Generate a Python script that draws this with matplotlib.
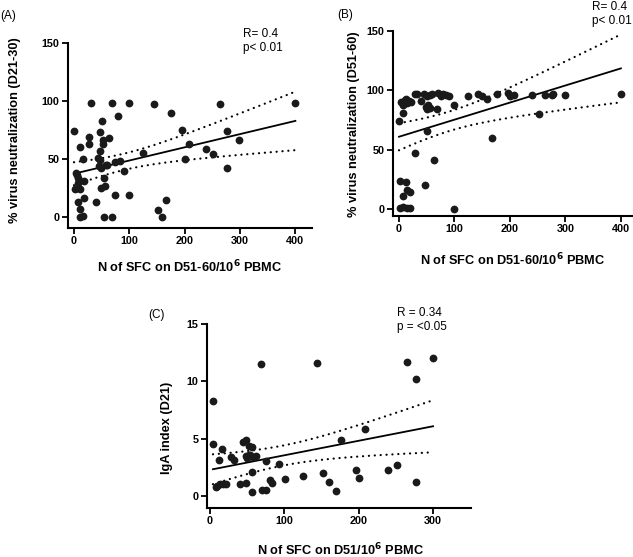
import numpy as np
import matplotlib
matplotlib.use("Agg")
import matplotlib.pyplot as plt

plt.rcParams['font.family'] = ['Liberation Sans', 'DejaVu Sans']

# ---------------- data ----------------
A_x = [0, 31, 68, 99, 144, 175, 195, 208, 200, 239, 252, 263, 276, 276, 299, 400,
       80, 51, 47, 52, 52, 28, 28, 63, 11, 16, 43, 47, 47, 48, 58, 60, 75, 83, 124,
       91, 4, 6, 8, 2, 10, 7, 19, 55, 56, 48, 19, 7, 11, 11, 16, 39, 75, 99, 55, 68,
       152, 159, 167, 46]
A_y = [74, 98, 98, 98, 97, 90, 75, 63, 50, 59, 54, 97, 74, 42, 66, 98,
       87, 83, 73, 66, 63, 69, 63, 68, 60, 50, 51, 57, 49, 42, 45, 45, 47, 48, 55,
       40, 38, 36, 34, 24, 24, 29, 31, 34, 27, 25, 16, 13, 7, 0, 1, 13, 19, 19, 0, 0,
       6, 0, 15, 44]

B_x = [0, 8, 4, 7, 10, 13, 15, 18, 22, 29, 33, 40, 45, 50, 55, 60, 70, 48, 52, 56,
       50, 68, 75, 80, 85, 90, 100, 124, 143, 150, 158, 176, 196, 200, 207, 240,
       263, 275, 277, 300, 400, 252, 51, 167, 28, 64, 47, 2, 12, 14, 20, 8, 2, 8,
       14, 20, 100]
B_y = [74, 81, 90, 88, 92, 93, 89, 91, 90, 97, 97, 91, 97, 95, 96, 97, 98, 86, 88,
       85, 84, 84, 95, 97, 96, 95, 88, 95, 97, 95, 93, 97, 98, 95, 96, 96,
       96, 96, 97, 96, 97, 80, 66, 60, 47, 41, 20, 24, 23, 16, 14, 11, 1, 2,
       1, 1, 0]

C_x = [4, 4, 16, 12, 28, 32, 8, 10, 14, 18, 22, 40, 48, 44, 48, 53, 56, 48, 50, 54,
       58, 62, 52, 76, 93, 57, 57, 69, 70, 76, 81, 84, 101, 125, 144, 152, 160, 169,
       176, 196, 201, 208, 240, 252, 265, 277, 277, 300]
C_y = [8.3, 4.5, 4.1, 3.1, 3.4, 3.1, 0.8, 0.9, 1.0, 1.0, 1.0, 1.0, 1.1, 4.7, 4.9,
       4.4, 4.3, 3.5, 3.3, 3.6, 3.4, 3.5, 3.6, 3.05, 2.8, 2.1, 0.35, 11.5, 0.5, 0.5,
       1.35, 1.1, 1.5, 1.7, 11.6, 2.0, 1.25, 0.4, 4.9, 2.3, 1.55, 5.8, 2.3, 2.7,
       11.7, 10.2, 1.2, 12.0]

A_xticks = [0, 100, 200, 300, 400]
A_yticks = [0, 50, 100, 150]
B_xticks = [0, 100, 200, 300, 400]
B_yticks = [0, 50, 100, 150]
C_xticks = [0, 100, 200, 300]
C_yticks = [0, 5, 10, 15]

A_xlabel = "N of SFC on D51-60/10$^{\\mathbf{6}}$ PBMC"
A_ylabel = "% virus neutralization (D21-30)"
B_xlabel = "N of SFC on D51-60/10$^{\\mathbf{6}}$ PBMC"
B_ylabel = "% virus neutralization (D51-60)"
C_xlabel = "N of SFC on D51/10$^{\\mathbf{6}}$ PBMC"
C_ylabel = "IgA index (D21)"

A_stats = "R= 0.4\np< 0.01"
B_stats = "R= 0.4\np< 0.01"
C_stats = "R = 0.34\np = <0.05"

W, H = 633, 557
fig = plt.figure(figsize=(W / 100, H / 100), dpi=100)


def add_ax(l, t, r, b):
    return fig.add_axes([l / W, 1 - b / H, (r - l) / W, (b - t) / H])


def ftext(px, py, s, **kw):
    fig.text(px / W, 1 - py / H, s, **kw)


def regress(ax, x, y):
    x = np.asarray(x, float)
    y = np.asarray(y, float)
    n = len(x)
    slope, icpt = np.polyfit(x, y, 1)
    xs = np.linspace(x.min(), x.max(), 200)
    yhat = slope * xs + icpt
    resid = y - (slope * x + icpt)
    s = np.sqrt(np.sum(resid ** 2) / (n - 2))
    sxx = np.sum((x - x.mean()) ** 2)
    se = s * np.sqrt(1.0 / n + (xs - x.mean()) ** 2 / sxx)
    t = 2.0
    ax.plot(xs, yhat, color='black', lw=1.3, zorder=2)
    for band in (yhat + t * se, yhat - t * se):
        ax.plot(xs, band, color='black', lw=1.6, linestyle=(0, (0.05, 2.6)),
                dash_capstyle='round', zorder=2)


def style(ax, xlim, ylim, xticks, yticks):
    ax.set_xlim(*xlim)
    ax.set_ylim(*ylim)
    ax.set_xticks(xticks)
    ax.set_yticks(yticks)
    for sp in ('top', 'right'):
        ax.spines[sp].set_visible(False)
    for sp in ('left', 'bottom'):
        ax.spines[sp].set_linewidth(1.5)
    ax.tick_params(direction='out', length=4, width=1.3, labelsize=7.8, pad=2)
    for lab in ax.get_xticklabels() + ax.get_yticklabels():
        lab.set_fontweight('bold')
    ax.patch.set_alpha(0)


def panel(ax, x, y, xlim, ylim, xticks, yticks):
    regress(ax, x, y)
    ax.plot(x, y, 'o', color='#1a1a1a', ms=5.6, mec='none', zorder=3, clip_on=False)
    style(ax, xlim, ylim, xticks, yticks)


# Panel A
axA = add_ax(68, 43, 312, 228)
panel(axA, A_x, A_y, (-10.8, 430), (-9.5, 150), A_xticks, A_yticks)
ftext(190, 267, A_xlabel, ha='center', va='center', fontsize=9.2, fontweight='bold')
ftext(15, 130, A_ylabel, ha='center', va='center', rotation=90, fontsize=9.2, fontweight='bold')
ftext(0, 16, "(A)", ha='left', va='center', fontsize=8.5)
ftext(243, 41, A_stats, ha='left', va='center', fontsize=8.5, linespacing=1.2)

# Panel B
axB = add_ax(393, 31, 632, 216)
panel(axB, B_x, B_y, (-10.8, 420), (-5.9, 150), B_xticks, B_yticks)
ftext(513, 260, B_xlabel, ha='center', va='center', fontsize=9.2, fontweight='bold')
ftext(354, 124, B_ylabel, ha='center', va='center', rotation=90, fontsize=9.2, fontweight='bold')
ftext(337, 15, "(B)", ha='left', va='center', fontsize=8.5)
ftext(592, 14, B_stats, ha='left', va='center', fontsize=8.5, linespacing=1.2)

# Panel C
axC = add_ax(207, 324, 471, 508)
panel(axC, C_x, C_y, (-4, 351), (-1.05, 15), C_xticks, C_yticks)
ftext(340, 550, C_xlabel, ha='center', va='center', fontsize=9.2, fontweight='bold')
ftext(167, 428, C_ylabel, ha='center', va='center', rotation=90, fontsize=9.2, fontweight='bold')
ftext(148, 315, "(C)", ha='left', va='center', fontsize=8.5)
ftext(397, 320, C_stats, ha='left', va='center', fontsize=8.5, linespacing=1.2)

fig.savefig("out.png", dpi=100)
